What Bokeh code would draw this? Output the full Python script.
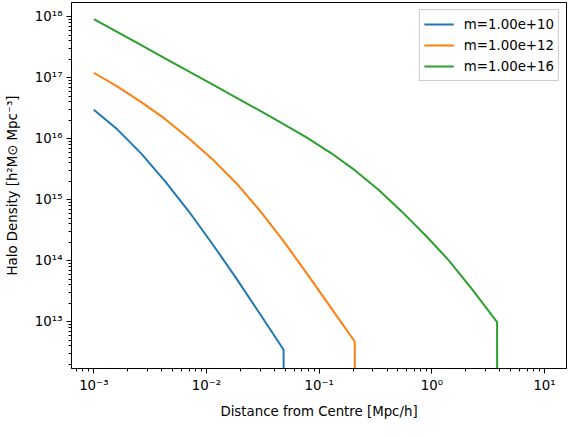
import numpy as np
from bokeh.plotting import figure
from bokeh.models import Range1d, FixedTicker, CustomJSTickFormatter
from bokeh.embed import file_html
from bokeh.resources import INLINE

# radius grid [Mpc/h]
radius = [1.000e-3, 1.624e-3, 2.637e-3, 4.281e-3, 6.952e-3, 1.129e-2, 1.833e-2,
          2.976e-2, 4.833e-2, 7.848e-2, 0.1274, 0.2069, 0.3360, 0.5456, 0.8859,
          1.438, 2.336, 3.793, 6.158, 10.0]

# halo densities (zero beyond the virial radius)
rho_m1e10 = [2.99e16, 1.41e16, 5.69e15, 2.02e15, 6.46e14, 1.88e14, 5.19e13,
             1.35e13, 3.47e12, 0, 0, 0, 0, 0, 0, 0, 0, 0, 0, 0]
rho_m1e12 = [1.205e17, 7.16e16, 3.98e16, 2.11e16, 1.02e16, 4.62e15, 1.88e15,
             6.61e14, 2.09e14, 6.03e13, 1.69e13, 4.74e12, 0, 0, 0, 0, 0, 0, 0, 0]
rho_m1e16 = [9.14e17, 5.58e17, 3.41e17, 2.08e17, 1.27e17, 7.74e16, 4.73e16,
             2.88e16, 1.74e16, 1.03e16, 5.82e15, 3.05e15, 1.45e15, 6.31e14,
             2.57e14, 9.77e13, 3.20e13, 9.82e12, 0, 0]

series_labels = ["m=1.00e+10", "m=1.00e+12", "m=1.00e+16"]
series_colors = ["#1f77b4", "#ff7f0e", "#2ca02c"]

x_major = [1e-3, 1e-2, 1e-1, 1e0, 1e1]
y_major = [1e13, 1e14, 1e15, 1e16, 1e17, 1e18]

FONT = "DejaVu Sans"
FS = "13.33px"

p = figure(width=568, height=421, x_axis_type="log", y_axis_type="log",
           x_range=Range1d(10 ** -3.198, 10 ** 1.195),
           y_range=Range1d(10 ** 12.233, 10 ** 18.2325),
           output_backend="svg", toolbar_location=None,
           min_border_left=71, min_border_right=2, min_border_top=2,
           min_border_bottom=50)
p.background_fill_color = "white"
p.border_fill_color = "white"
p.outline_line_color = "black"
p.outline_line_alpha = 1
p.outline_line_width = 1
p.xgrid.visible = False
p.ygrid.visible = False

# matplotlib-style clipping of non-positive values on a log axis
floor = 1e-300
for rho, lab, col in zip([rho_m1e10, rho_m1e12, rho_m1e16], series_labels, series_colors):
    y = [v if v > 0 else floor for v in rho]
    p.line(radius, y, line_color=col, line_width=2, legend_label=lab)

def minor_list(lo, hi):
    out = []
    for e in range(lo, hi + 1):
        for m in range(2, 10):
            out.append(m * 10.0 ** e)
    return out

sup_js = """
const sup = {'-':'\u207b','0':'\u2070','1':'\u00b9','2':'\u00b2','3':'\u00b3','4':'\u2074',
             '5':'\u2075','6':'\u2076','7':'\u2077','8':'\u2078','9':'\u2079'};
const e = Math.round(Math.log10(tick));
return '10' + String(e).split('').map(c => sup[c]).join('');
"""

p.xaxis.ticker = FixedTicker(ticks=x_major, minor_ticks=minor_list(-4, 1))
p.yaxis.ticker = FixedTicker(ticks=y_major, minor_ticks=minor_list(12, 18))
for ax in (p.xaxis, p.yaxis):
    ax.formatter = CustomJSTickFormatter(code=sup_js)
    ax.major_label_text_font = FONT
    ax.major_label_text_font_size = FS
    ax.major_label_text_color = "black"
    ax.axis_label_text_font = FONT
    ax.axis_label_text_font_size = FS
    ax.axis_label_text_font_style = "normal"
    ax.axis_label_text_color = "black"
    ax.axis_line_color = "black"
    ax.major_tick_line_color = "black"
    ax.minor_tick_line_color = "black"
    ax.major_tick_in = 0
    ax.major_tick_out = 5
    ax.minor_tick_in = 0
    ax.minor_tick_out = 3
    ax.major_label_standoff = 4

p.xaxis.axis_label = "Distance from Centre [Mpc/h]"
p.yaxis.axis_label = "Halo Density [h\u00b2M\u2299 Mpc\u207b\u00b3]"
p.xaxis.axis_label_standoff = 8
p.yaxis.axis_label_standoff = 12

lg = p.legend[0]
lg.location = "top_right"
lg.margin = 7
lg.padding = 4
lg.spacing = 1
lg.glyph_width = 30
lg.glyph_height = 20
lg.label_height = 20
lg.label_standoff = 10
lg.label_text_font = FONT
lg.label_text_font_size = FS
lg.label_text_color = "black"
lg.border_line_color = "#cccccc"
lg.border_line_alpha = 1
lg.background_fill_alpha = 0.8

open("out.html", "w").write(file_html(p, INLINE))
